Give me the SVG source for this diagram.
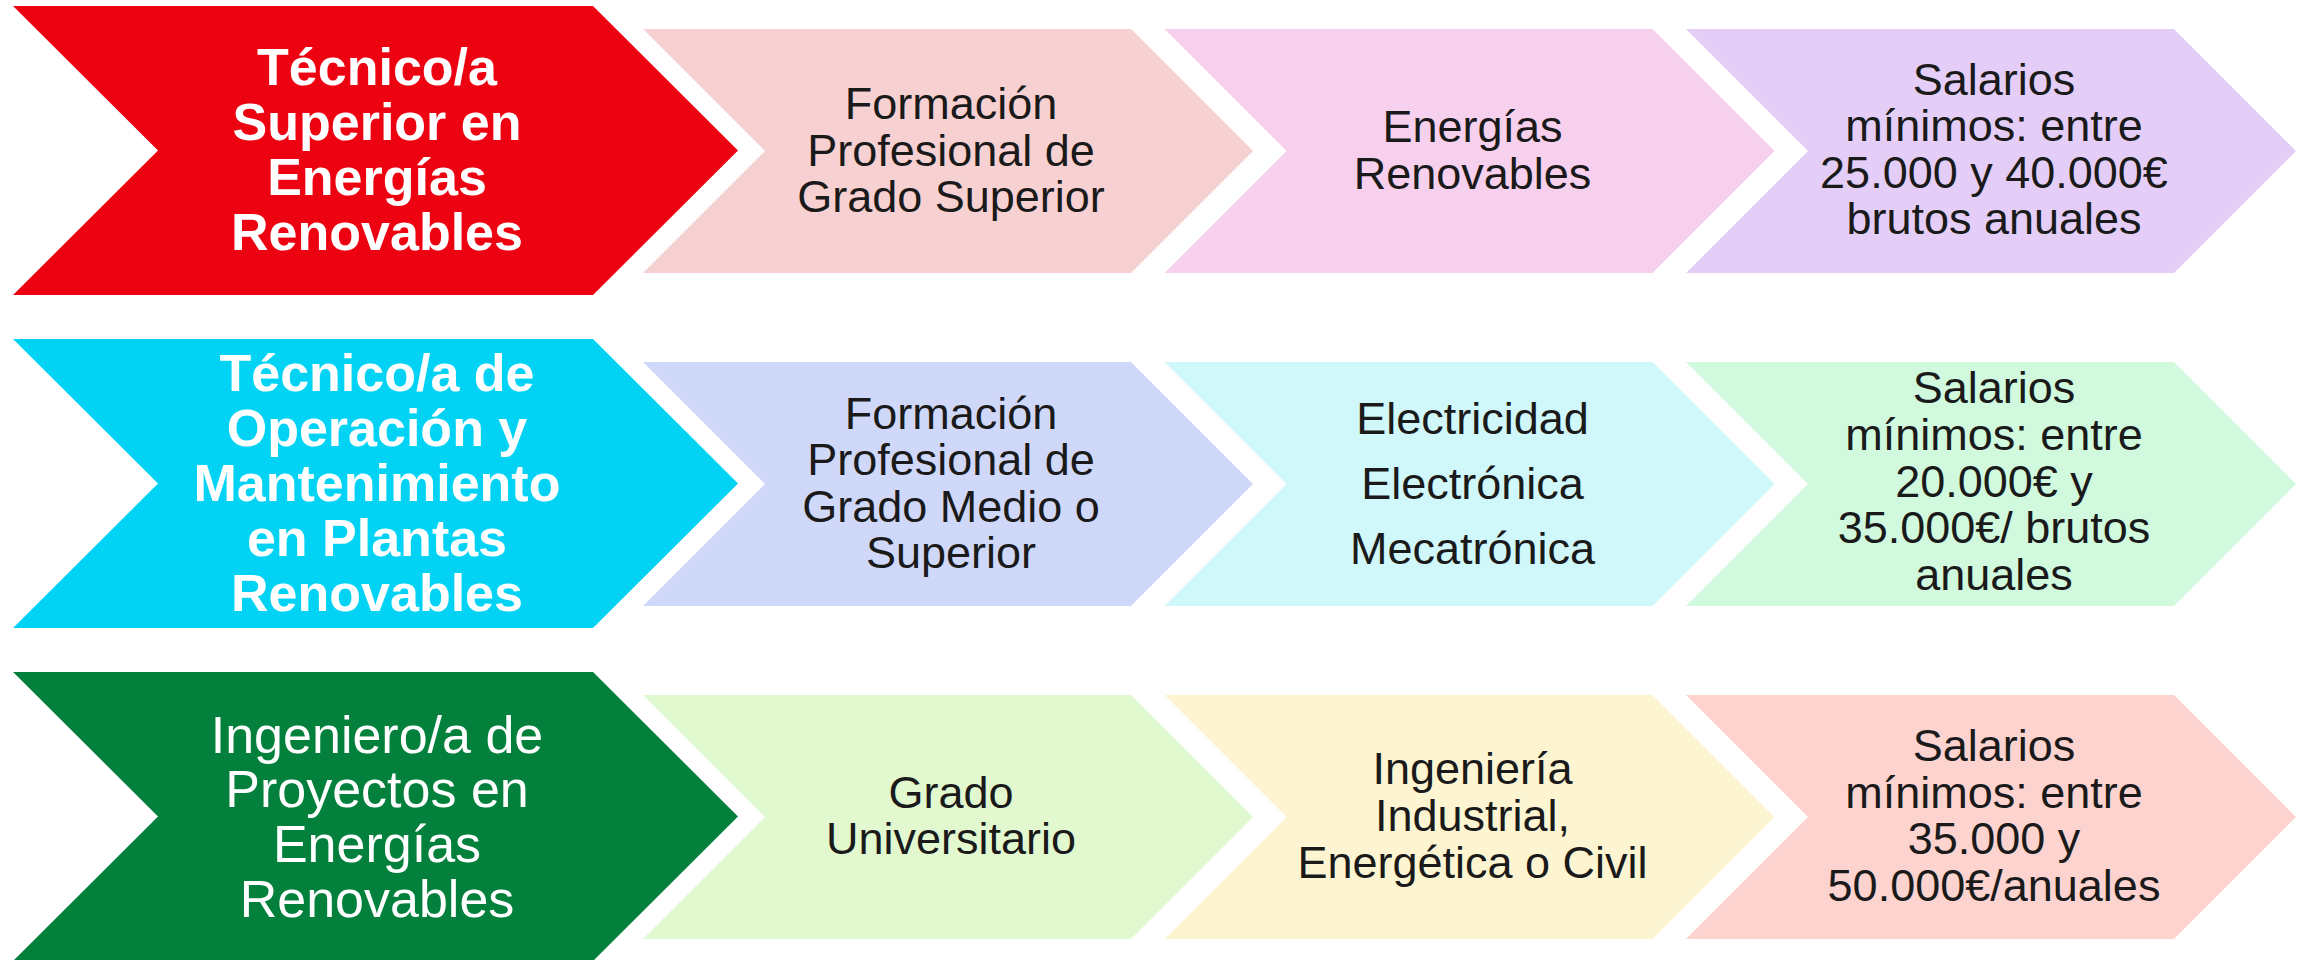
<svg xmlns="http://www.w3.org/2000/svg" width="2308" height="960" viewBox="0 0 2308 960">
<style>
.big{font-family:"Liberation Sans",Arial,sans-serif;font-size:52px;fill:#ffffff;text-anchor:middle}
.bold{font-weight:bold}
.sm{font-family:"Liberation Sans",Arial,sans-serif;font-size:45px;fill:#1a1a1a;text-anchor:middle}
</style>
<defs>
<path id="bigc" d="M0,0 L580,0 L725,144.5 L580,289 L0,289 L145,144.5 Z"/>
<path id="smc" d="M0,0 L488,0 L610,122 L488,244 L0,244 L122,122 Z"/>
</defs>
<rect width="2308" height="960" fill="#ffffff"/>
<g id="connectors"></g>

<g id="r1c1">
<use href="#bigc" x="13" y="6" fill="#ED0211"/>
<text class="big bold" x="377"><tspan x="377" y="85">Técnico/a</tspan><tspan x="377" y="140">Superior en</tspan><tspan x="377" y="195">Energías</tspan><tspan x="377" y="250">Renovables</tspan></text>
</g>
<g id="r1c2">
<use href="#smc" x="643" y="29" fill="#F7D0D1"/>
<text class="sm"><tspan x="951" y="119">Formación</tspan><tspan x="951" y="165.5">Profesional de</tspan><tspan x="951" y="212">Grado Superior</tspan></text>
</g>
<g id="r1c3">
<use href="#smc" x="1164.5" y="29" fill="#F7D0EE"/>
<text class="sm"><tspan x="1472.5" y="142">Energías</tspan><tspan x="1472.5" y="189">Renovables</tspan></text>
</g>
<g id="r1c4">
<use href="#smc" x="1686" y="29" fill="#E4CEF7"/>
<text class="sm"><tspan x="1994" y="94.5">Salarios</tspan><tspan x="1994" y="141">mínimos: entre</tspan><tspan x="1994" y="187.7">25.000 y 40.000€</tspan><tspan x="1994" y="234.3">brutos anuales</tspan></text>
</g>

<g id="r2c1">
<use href="#bigc" x="13" y="339" fill="#02D3F4"/>
<text class="big bold"><tspan x="377" y="391">Técnico/a de</tspan><tspan x="377" y="446">Operación y</tspan><tspan x="377" y="501">Mantenimiento</tspan><tspan x="377" y="556">en Plantas</tspan><tspan x="377" y="611">Renovables</tspan></text>
</g>
<g id="r2c2">
<use href="#smc" x="643" y="362" fill="#D0D8FA"/>
<text class="sm"><tspan x="951" y="428.5">Formación</tspan><tspan x="951" y="475">Profesional de</tspan><tspan x="951" y="521.7">Grado Medio o</tspan><tspan x="951" y="568.3">Superior</tspan></text>
</g>
<g id="r2c3">
<use href="#smc" x="1164.5" y="362" fill="#D0F7F9"/>
<text class="sm"><tspan x="1472.5" y="433.5">Electricidad</tspan><tspan x="1472.5" y="498.5">Electrónica</tspan><tspan x="1472.5" y="563.5">Mecatrónica</tspan></text>
</g>
<g id="r2c4">
<use href="#smc" x="1686" y="362" fill="#D0F9DE"/>
<text class="sm"><tspan x="1994" y="403.3">Salarios</tspan><tspan x="1994" y="450">mínimos: entre</tspan><tspan x="1994" y="496.7">20.000€ y</tspan><tspan x="1994" y="543.3">35.000€/ brutos</tspan><tspan x="1994" y="590">anuales</tspan></text>
</g>

<g id="r3c1">
<use href="#bigc" x="13" y="672" fill="#03803C"/>
<text class="big"><tspan x="377" y="752.7">Ingeniero/a de</tspan><tspan x="377" y="806.7">Proyectos en</tspan><tspan x="377" y="861.7">Energías</tspan><tspan x="377" y="916.7">Renovables</tspan></text>
</g>
<g id="r3c2">
<use href="#smc" x="643" y="695" fill="#E2F9D0"/>
<text class="sm"><tspan x="951" y="807.7">Grado</tspan><tspan x="951" y="854.3">Universitario</tspan></text>
</g>
<g id="r3c3">
<use href="#smc" x="1164.5" y="695" fill="#FDF5D2"/>
<text class="sm"><tspan x="1472.5" y="784">Ingeniería</tspan><tspan x="1472.5" y="831">Industrial,</tspan><tspan x="1472.5" y="877.7">Energética o Civil</tspan></text>
</g>
<g id="r3c4">
<use href="#smc" x="1686" y="695" fill="#FDD3CF"/>
<text class="sm"><tspan x="1994" y="761">Salarios</tspan><tspan x="1994" y="807.5">mínimos: entre</tspan><tspan x="1994" y="854.3">35.000 y</tspan><tspan x="1994" y="901">50.000€/anuales</tspan></text>
</g>
</svg>
